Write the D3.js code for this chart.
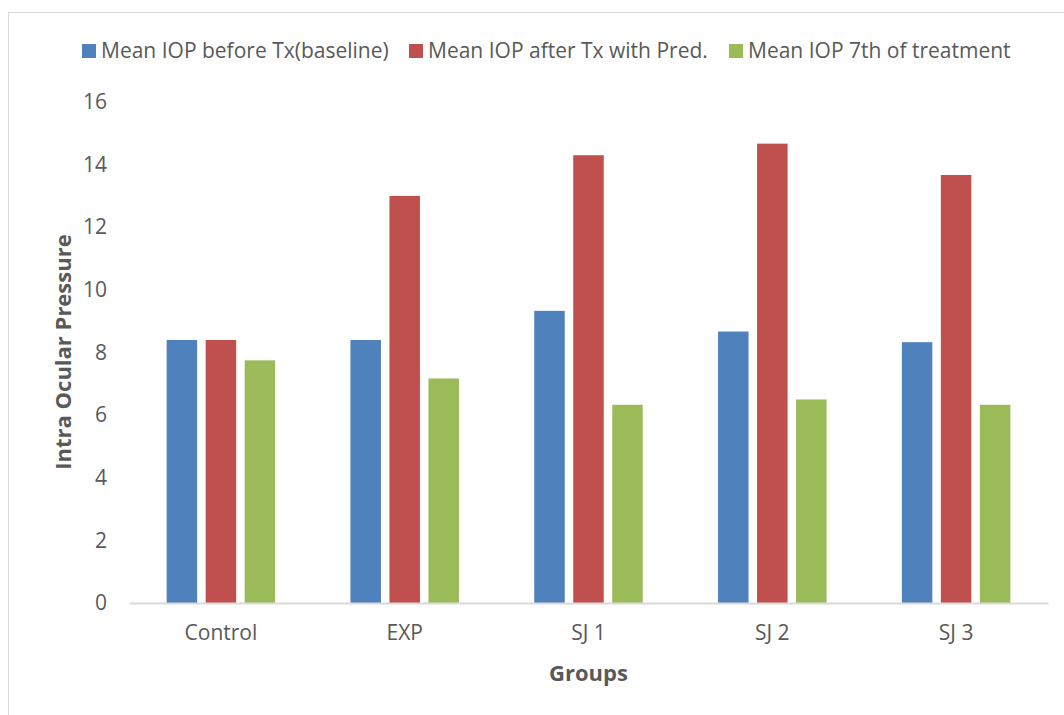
<!DOCTYPE html>
<html>
<head>
<meta charset="utf-8">
<script src="https://cdn.jsdelivr.net/npm/d3@7"></script>
<style>
  body { margin: 0; background: #fff; }
  svg { display: block; font-family: "Open Sans", sans-serif; }
</style>
</head>
<body>
<div id="chart"></div>
<script>
// data
const groups = ["Control", "EXP", "SJ 1", "SJ 2", "SJ 3"];
const seriesNames = ["Mean IOP before Tx(baseline)", "Mean IOP after Tx with Pred.", "Mean IOP 7th of treatment"];
const baseline = [8.4, 8.4, 9.33, 8.67, 8.33];
const afterPred = [8.4, 13.0, 14.3, 14.67, 13.67];
const day7 = [7.75, 7.17, 6.33, 6.5, 6.33];
const yTicks = [0, 2, 4, 6, 8, 10, 12, 14, 16];
const colors = ["#4f81bd", "#c0504d", "#9bbb59"];

const width = 1064, height = 715;
const margin = { top: 102, right: 16, bottom: 112, left: 129 };
const innerWidth = width - margin.left - margin.right;
const innerHeight = height - margin.top - margin.bottom;

const svg = d3.select("#chart")
    .append("svg")
    .attr("width", width)
    .attr("height", height);

// outer chart border (only left and top visible)
svg.append("rect")
    .attr("x", 8.5)
    .attr("y", 12.5)
    .attr("width", width + 20)
    .attr("height", height + 20)
    .attr("fill", "none")
    .attr("stroke", "#d9d9d9")
    .attr("stroke-width", 1);

const x0 = d3.scaleBand().domain(groups).range([0, innerWidth]);
const x1 = d3.scaleBand()
    .domain(d3.range(seriesNames.length))
    .range([(x0.bandwidth() - 108.5) / 2, (x0.bandwidth() + 108.5) / 2])
    .paddingInner(0.218);
const y = d3.scaleLinear().domain([0, 16]).range([innerHeight, 0]);

const g = svg.append("g").attr("transform", `translate(${margin.left},${margin.top})`);

// y axis labels, no line
const yAxis = g.append("g")
    .call(d3.axisLeft(y).tickValues(yTicks).tickSize(0).tickPadding(22));
yAxis.select(".domain").remove();
yAxis.selectAll(".tick text")
    .style("font-size", "21px")
    .style("fill", "#595959")
    .style("font-family", "Open Sans, sans-serif");

// bars
const allSeries = [baseline, afterPred, day7];
const rows = groups.map((name, i) => ({ name, values: allSeries.map(s => s[i]) }));

const groupSel = g.selectAll(".group")
    .data(rows)
    .join("g")
    .attr("class", "group")
    .attr("transform", d => `translate(${x0(d.name)},0)`);

groupSel.selectAll("rect")
    .data(d => d.values.map((v, k) => ({ v, k })))
    .join("rect")
    .attr("x", d => x1(d.k))
    .attr("y", d => y(d.v))
    .attr("width", x1.bandwidth())
    .attr("height", d => innerHeight - y(d.v))
    .attr("fill", d => colors[d.k]);

// x axis
const xAxis = g.append("g")
    .attr("transform", `translate(0,${innerHeight})`)
    .call(d3.axisBottom(x0).tickSize(0).tickPadding(22));
xAxis.select(".domain")
    .attr("stroke", "#d9d9d9")
    .attr("stroke-width", 2);
xAxis.selectAll(".tick text")
    .style("font-size", "21px")
    .style("fill", "#595959")
    .style("font-family", "Open Sans, sans-serif");

// axis titles
svg.append("text")
    .attr("x", margin.left + innerWidth / 2)
    .attr("y", 681)
    .attr("text-anchor", "middle")
    .style("font-size", "22px")
    .style("font-weight", "bold")
    .style("fill", "#595959")
    .text("Groups");

svg.append("text")
    .attr("transform", "rotate(-90)")
    .attr("x", -352)
    .attr("y", 71)
    .attr("text-anchor", "middle")
    .style("font-size", "22px")
    .style("font-weight", "bold")
    .style("fill", "#595959")
    .text("Intra Ocular Pressure");

// legend
const legendX = [82, 409, 729];
const legend = svg.append("g");
seriesNames.forEach((name, i) => {
    const item = legend.append("g").attr("transform", `translate(${legendX[i]},44)`);
    item.append("rect")
        .attr("width", 14)
        .attr("height", 14)
        .attr("fill", colors[i]);
    item.append("text")
        .attr("x", 19)
        .attr("y", 14)
        .style("font-size", "21px")
        .style("fill", "#595959")
        .text(name);
});
</script>
</body>
</html>
